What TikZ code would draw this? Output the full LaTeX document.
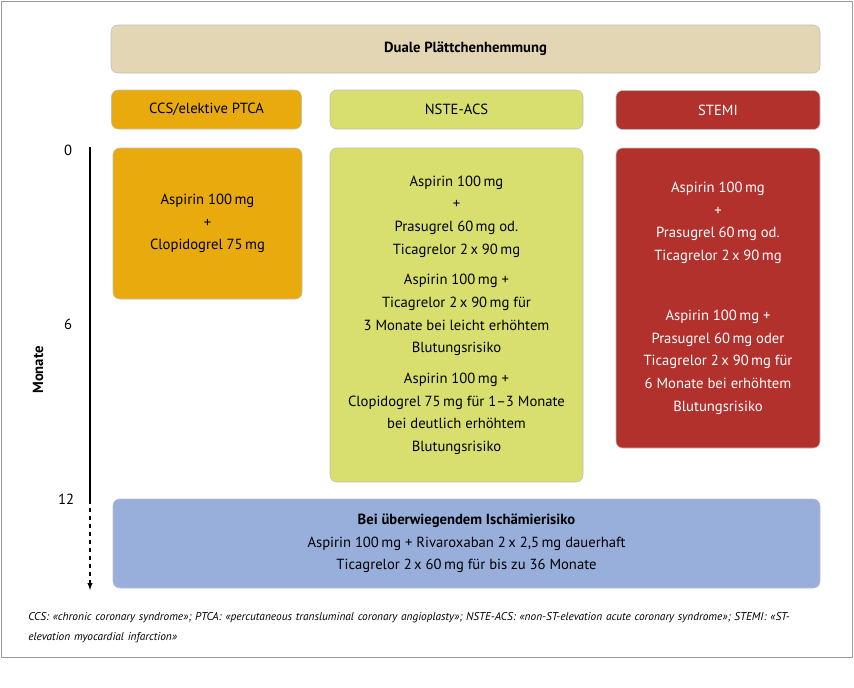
\documentclass[tikz,border=0pt]{standalone}
\usepackage{fontspec}
\setmainfont{PT Sans}
\usepackage{tikz}
\definecolor{tan}{HTML}{E3D6B4}
\definecolor{ccs}{HTML}{E8AA0C}
\definecolor{nste}{HTML}{D9DF6E}
\definecolor{stemi}{HTML}{B3312C}
\definecolor{ischaem}{HTML}{98AFDB}
\tikzset{
  box/.style={draw=black!25,rounded corners=5pt,align=center,font=\fontsize{11}{17}\selectfont,inner sep=0pt},
  head/.style={box,font=\fontsize{11}{13}\selectfont},
}
\begin{document}
\begin{tikzpicture}[x=0.75pt,y=-0.75pt]
	\useasboundingbox (0,0) rectangle (854,687);
	\draw[black!40] (1,1) rectangle (852,657);
	% Kopf
	\node[box,fill=tan,minimum width=709*0.75pt,minimum height=48*0.75pt] (title) at (465.5,49) {\textbf{Duale Plättchenhemmung}};
	\node[head,fill=ccs,minimum width=190*0.75pt,minimum height=39*0.75pt] (hccs) at (206.5,109.5) {CCS/elektive PTCA};
	\node[head,fill=nste,minimum width=253*0.75pt,minimum height=39*0.75pt] (hnste) at (456.5,109.5) {NSTE-ACS};
	\node[head,fill=stemi,text=white,minimum width=204*0.75pt,minimum height=39*0.75pt] (hstemi) at (718,110) {STEMI};
	% Therapien
	\node[box,fill=ccs,minimum width=189*0.75pt,minimum height=151*0.75pt] (bccs) at (207.5,223.5) {Aspirin 100\,mg\\+\\Clopidogrel 75\,mg};
	\node[box,fill=nste,minimum width=253*0.75pt,minimum height=334*0.75pt] (bnste) at (456.5,315) {Aspirin 100\,mg\\+\\Prasugrel 60\,mg od.\\Ticagrelor 2\,x 90\,mg\\[6pt]Aspirin 100\,mg +\\Ticagrelor 2\,x 90\,mg für\\3 Monate bei leicht erhöhtem\\Blutungsrisiko\\[6pt]Aspirin 100\,mg +\\Clopidogrel 75\,mg für 1–3 Monate\\bei deutlich erhöhtem\\Blutungsrisiko};
	\node[box,fill=stemi,text=white,minimum width=204*0.75pt,minimum height=300*0.75pt] (bstemi) at (718,298) {Aspirin 100\,mg\\+\\Prasugrel 60\,mg od.\\Ticagrelor 2\,x 90\,mg\\[28pt]Aspirin 100\,mg +\\Prasugrel 60\,mg oder\\Ticagrelor 2\,x 90\,mg für\\6 Monate bei erhöhtem\\Blutungsrisiko};
	\node[box,fill=ischaem,minimum width=707*0.75pt,minimum height=89*0.75pt] (bisch) at (466.5,543.5) {\textbf{Bei überwiegendem Ischämierisiko}\\Aspirin 100\,mg + Rivaroxaban 2\,x 2,5\,mg dauerhaft\\Ticagrelor 2\,x 60\,mg für bis zu 36 Monate};
	% Zeitachse
	\coordinate (t0) at (90,147);
	\coordinate (t12) at (90,500);
	\coordinate (tend) at (90,590);
	\draw[thick] (t0) -- (t12);
	\draw[thick,dashed,-latex] (t12) -- (tend);
	\node[font=\fontsize{11}{13}\selectfont] (m0) at (68,150) {0};
	\node[font=\fontsize{11}{13}\selectfont] (m6) at (68,324) {6};
	\node[font=\fontsize{11}{13}\selectfont] (m12) at (66,499) {12};
	\node[rotate=90,font=\bfseries\fontsize{11}{13}\selectfont] (monate) at (38,370) {Monate};
	% Fussnote
	\node[anchor=north west,align=left,text width=800*0.75pt,font=\itshape\fontsize{8.5}{15}\selectfont,inner sep=0pt] (note) at (28,612) {CCS: «chronic coronary syndrome»; PTCA: «percutaneous transluminal coronary angioplasty»; NSTE-ACS: «non-ST-elevation acute coronary syndrome»; STEMI: «ST-elevation myocardial infarction»};
\end{tikzpicture}
\end{document}
